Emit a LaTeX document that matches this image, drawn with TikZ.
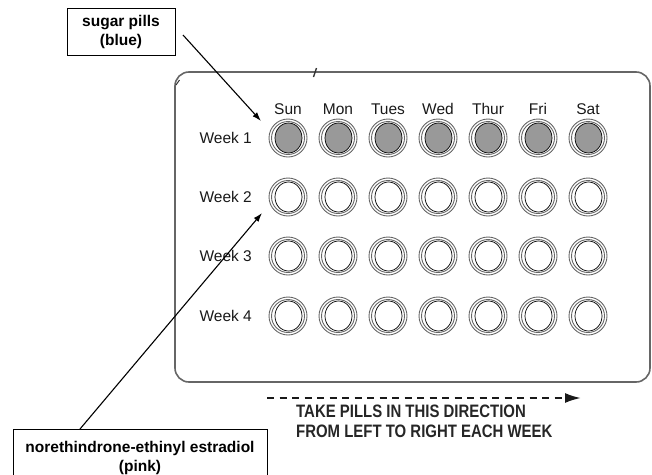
\documentclass[tikz,border=0pt]{standalone}
\usepackage{fontspec}
\setmainfont{Liberation Sans}
\newfontfamily\condfont{Liberation Sans}[FakeStretch=0.83]
\usetikzlibrary{arrows.meta}
\begin{document}
\begin{tikzpicture}[x=1pt,y=-1pt,
  lbl/.style={draw=black, line width=1pt, fill=white, align=center,
    font=\fontsize{15.5}{19}\selectfont\bfseries, inner sep=0pt},
  daylbl/.style={font=\fontsize{15.5}{17}\selectfont, text=black!90, inner sep=0pt},
  weeklbl/.style={font=\fontsize{15.5}{17}\selectfont, text=black!90, inner sep=0pt, anchor=east},
  dirtext/.style={font=\condfont\bfseries\fontsize{18}{20}\selectfont, text=black!85, inner sep=0pt, anchor=west},
  ptr/.style={-{Latex[length=9pt,width=6pt]}, line width=1.1pt},
  ring/.style={draw=black!60, line width=0.9pt},
  core/.style={draw=black, line width=0.7pt}]
\useasboundingbox (0,0) rectangle (652,474);

% pack outline
\draw[black!60, line width=1.6pt, rounded corners=14pt] (175,72) rectangle (650,382);
\draw[black!80, line width=1.4pt] (313.5,77) -- (316.5,68);
\draw[black!80, line width=1pt] (176,85) -- (179.5,80);

% day labels
\foreach \x/\d in {288/Sun,338/Mon,388/Tues,438/Wed,488/Thur,538/Fri,588/Sat}
  \node[daylbl] (d\d) at (\x,109) {\d};

% week labels
\foreach \w/\y in {1/138,2/197,3/256,4/316}
  \node[weeklbl] (w\w) at (252,\y) {Week \w};

% pills
\foreach \y/\f in {138/black!40,197/white,256/white,316/white}
  \foreach \x in {288,338,388,438,488,538,588}{
    \draw[ring] (\x,\y) circle[radius=19pt];
    \draw[ring] (\x,\y) circle[radius=16.5pt];
    \draw[core, fill=\f] (\x+0.5,\y) ellipse[x radius=13.5pt, y radius=15pt];
  }

% label boxes
\node[lbl, minimum width=108pt, minimum height=47pt] (sugar) at (121,31.5) {sugar pills\\(blue)};
\node[lbl, minimum width=254pt, minimum height=56pt, anchor=north] (nore) at (140,429)
  {norethindrone-ethinyl estradiol\\(pink)};

\coordinate (sugartip) at (261,121);
\coordinate (sugarstart) at (183,35);
\coordinate (noretip) at (262,213);
\coordinate (norestart) at (80,429);
\draw[ptr] (sugarstart) -- (sugartip);
\draw[ptr] (norestart) -- (noretip);

% direction
\coordinate (dirA) at (267,398);
\coordinate (dirB) at (581,398);
\draw[black!90, line width=2pt, dash pattern=on 7pt off 5.5pt, -{Latex[length=16pt,width=10pt]}] (dirA) -- (dirB);
\node[dirtext] (take) at (296,411) {TAKE PILLS IN THIS DIRECTION};
\node[dirtext] (from) at (296,431) {FROM LEFT TO RIGHT EACH WEEK};
\end{tikzpicture}
\end{document}
